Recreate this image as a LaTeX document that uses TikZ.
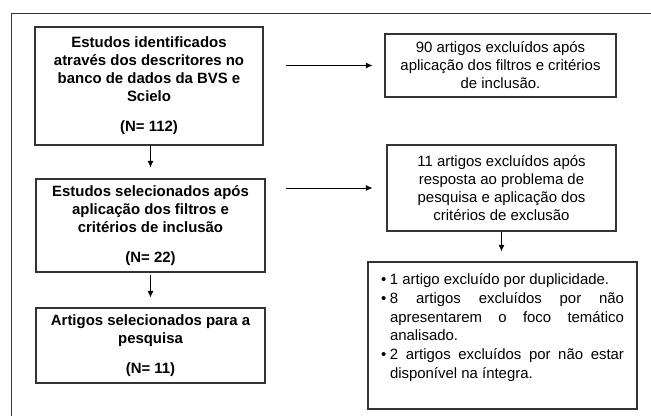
\documentclass[tikz,border=0pt]{standalone}
\usepackage{fontspec}
\setmainfont{Liberation Sans}
\usetikzlibrary{arrows.meta}
\newcommand{\fbul}{\par\noindent\hangindent=6.75pt\hangafter=1\makebox[6.75pt][l]{\textbullet}}

\begin{document}
\begin{tikzpicture}[x=0.75pt, y=-0.75pt,
    box/.style={draw=black!80, line width=0.8pt, inner sep=0pt, align=center,
      font=\fontsize{11.2}{13.5}\selectfont},
    boldbox/.style={box, font=\bfseries\fontsize{11.2}{13.5}\selectfont},
    arr/.style={draw, line width=0.6pt, -{Latex[length=5pt,width=4.5pt]}}]
       \useasboundingbox (0,0) rectangle (651,416);
       \path[draw=black!80, line width=0.7pt] (11,420) -- (11,13) -- (655,13);

       \node[boldbox, minimum width=171pt, minimum height=88.5pt] (ident) at (149,86)
         {Estudos identificados\\através dos descritores no\\banco de dados da BVS e\\Scielo\\[9pt](N= 112)};
       \node[boldbox, minimum width=171.75pt, minimum height=69.75pt] (selec) at (150.5,225.5)
         {Estudos selecionados após\\aplicação dos filtros e\\critérios de inclusão\\[9pt](N= 22)};
       \node[boldbox, minimum width=171.75pt, minimum height=56.25pt] (final) at (150.5,345.5)
         {Artigos selecionados para a\\pesquisa\\[9pt](N= 11)};

       \node[box, minimum width=173.25pt, minimum height=47.25pt] (excl1) at (500.5,65.5)
         {90 artigos excluídos após\\aplicação dos filtros e critérios\\de inclusão.};
       \node[box, minimum width=171.75pt, minimum height=64.5pt] (excl2) at (501.5,188)
         {11 artigos excluídos após\\resposta ao problema de\\pesquisa e aplicação dos\\critérios de exclusão};
       \node[box, minimum width=201.75pt, minimum height=110.25pt] (motivos) at (502.5,335.5)
         {\parbox[c][92.25pt][t]{182.25pt}{\fontsize{11.2}{14}\selectfont
           \fbul 1 artigo excluído por duplicidade.
           \fbul 8 artigos excluídos por não\linebreak apresentarem o foco temático\linebreak analisado.
           \fbul 2 artigos excluídos por não estar\linebreak disponível na íntegra.}};

       \path[arr, shorten >=8.25pt] (selec.north |- ident.south) -- (selec.north);
       \path[arr, shorten <=1.5pt, shorten >=7.5pt] (selec.south) -- (final.north);
       \path[arr, shorten <=16.5pt, shorten >=9pt] (ident.east |- excl1.west) -- (excl1.west);
       \path[arr, shorten <=15pt, shorten >=10.5pt] (selec.east |- excl2.west) -- (excl2.west);
       \path[arr, shorten >=7.5pt] (excl2.south) -- (excl2.south |- motivos.north);
\end{tikzpicture}
\end{document}
